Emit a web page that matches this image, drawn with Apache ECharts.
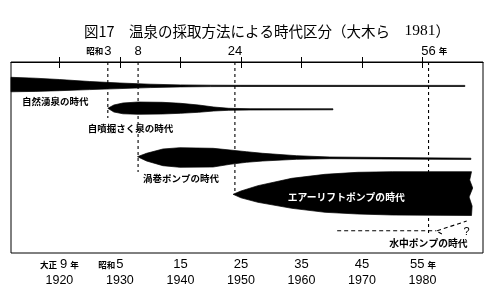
<!DOCTYPE html>
<html><head><meta charset="utf-8">
<script src="https://cdn.jsdelivr.net/npm/echarts@6/dist/echarts.min.js"></script>
<style>html,body{margin:0;padding:0;background:#fff}#c{width:500px;height:300px}</style>
</head><body><div id="c"></div>
<script>
// ---- text ----
const titleMain = '図17　温泉の採取方法による時代区分（大木ら　';
const titleYear = '1981';
const titleEnd = '）';

// ---- axis range (years) ----
const xMin = 1912, xMax = 1990;
const yMin = 0, yMax = 191;

// ---- bottom axis ----
const bottomTickYears = [1920, 1930, 1940, 1950, 1960, 1970, 1980];
const bottomEraPrefix = ['大正 ', '昭和', '', '', '', '', ''];
const bottomEraNumber = ['9', '5', '15', '25', '35', '45', '55'];
const bottomEraSuffix = ['年', '', '', '', '', '', '年'];

// ---- top axis ----
const topTickYears = [1920, 1930, 1940, 1950, 1960, 1970, 1980];
const topLabelYears = [1928, 1933, 1949, 1981];
const topLabelPrefix = ['昭和', '', '', ''];
const topLabelNumber = ['3', '8', '24', '56'];
const topLabelSuffix = ['', '', '', '年'];

// ---- era bands: year, upper edge, lower edge (lane units, 0 = top) ----
const naturalYears  = [1912, 1916, 1920, 1925, 1930, 1935, 1940, 1945, 1950, 1987];
const naturalTop    = [15.3, 16.2, 17.5, 19.5, 21.0, 22.2, 22.9, 23.2, 23.3, 23.4];
const naturalBottom = [29.8, 29.4, 28.7, 27.6, 26.6, 25.6, 24.9, 24.6, 24.5, 24.5];

const artesianYears  = [1928, 1929, 1930.5, 1933, 1937, 1940, 1943, 1945.5, 1948, 1951.5, 1965.2];
const artesianTop    = [46.3, 43.0, 41.0, 40.0, 40.3, 41.3, 43.0, 45.0, 46.3, 46.7, 46.8];
const artesianBottom = [46.3, 50.0, 51.8, 52.3, 52.0, 51.3, 50.3, 49.0, 48.3, 48.0, 47.8];

const centrifugalYears  = [1932.9, 1934.4, 1937.1, 1939.9, 1945.4, 1948.2, 1950.9, 1953.6, 1959.2, 1964.7, 1988];
const centrifugalTop    = [94.7, 91.3, 87.0, 85.7, 86.3, 88.0, 89.7, 91.3, 93.7, 95.0, 96.2];
const centrifugalBottom = [94.7, 99.0, 103.7, 105.3, 105.0, 102.3, 100.3, 99.0, 97.3, 96.7, 97.4];

const airliftYears  = [1948.7, 1950, 1952.8, 1958.4, 1963.9, 1969.3, 1975, 1988.1];
const airliftTop    = [132.3, 129.0, 123.7, 116.3, 112.3, 110.3, 109.7, 109.7];
const airliftBottom = [132.3, 135.8, 140.3, 146.3, 150.3, 152.0, 153.0, 153.5];
const airliftEdgeYears = [1987.8, 1988.3, 1987.7, 1988.2];
const airliftEdgeY     = [118, 126, 135, 144];

// ---- submersible pump (dashed) ----
const submersibleYears = [1965.9, 1982.3];
const submersibleY     = [168.7, 168.7];
const forkYears = [1983.2, 1982.3, 1987.3];
const forkY     = [172.0, 169.0, 159.0];

// ---- dashed dividers ----
const dividerYears = [1928, 1933, 1949, 1981];
const dividerEnds  = [56, 110, 131, 174];

// ---- era labels ----
const labelTexts = ['自然湧泉の時代', '自噴掘さく泉の時代', '渦巻ポンプの時代', 'エアーリフトポンプの時代', '水中ポンプの時代', '?'];
const labelYears = [1913.8, 1924.7, 1933.8, 1967.4, 1974.5, 1987.3];
const labelYs    = [39, 66.3, 116.3, 135.3, 181.3, 170];
const labelAlign = ['left', 'left', 'left', 'center', 'left', 'center'];
const labelColor = ['#000', '#000', '#000', '#fff', '#000', '#000'];

const JP = '"Noto Sans CJK JP"';

function bandSeries(name, years, top, bottom, edgeYears, edgeY) {
  return {
    type: 'custom', name: name, silent: true, z: 3,
    data: years.map((y, i) => [y, top[i], bottom[i]]),
    renderItem: function (params, api) {
      if (params.dataIndex !== 0) return null;
      const pts = [];
      for (let i = 0; i < years.length; i++) pts.push(api.coord([years[i], top[i]]));
      if (edgeYears) for (let i = 0; i < edgeYears.length; i++) pts.push(api.coord([edgeYears[i], edgeY[i]]));
      for (let i = years.length - 1; i >= 0; i--) pts.push(api.coord([years[i], bottom[i]]));
      return { type: 'polygon', shape: { points: pts }, style: { fill: '#000', stroke: '#000', lineWidth: 0.7 } };
    }
  };
}

const series = [];
dividerYears.forEach((yr, i) => {
  series.push({ type: 'line', silent: true, z: 1, symbol: 'none',
    data: [[yr, 0], [yr, dividerEnds[i]]],
    lineStyle: { color: '#000', width: 1.1, type: [3, 3] } });
});
series.push(bandSeries('自然湧泉', naturalYears, naturalTop, naturalBottom));
series.push(bandSeries('自噴掘さく泉', artesianYears, artesianTop, artesianBottom));
series.push(bandSeries('渦巻ポンプ', centrifugalYears, centrifugalTop, centrifugalBottom));
series.push(bandSeries('エアーリフトポンプ', airliftYears, airliftTop, airliftBottom, airliftEdgeYears, airliftEdgeY));
series.push({ type: 'line', silent: true, z: 2, symbol: 'none',
  data: submersibleYears.map((y, i) => [y, submersibleY[i]]),
  lineStyle: { color: '#000', width: 1.1, type: [4, 3] } });
series.push({ type: 'line', silent: true, z: 2, symbol: 'none',
  data: forkYears.map((y, i) => [y, forkY[i]]),
  lineStyle: { color: '#000', width: 1.1, type: [4, 3] } });
series.push({
  type: 'custom', silent: true, z: 6,
  data: labelYears.map((y, i) => [y, labelYs[i]]),
  renderItem: function (params, api) {
    const i = params.dataIndex;
    const p = api.coord([api.value(0), api.value(1)]);
    const isQ = labelTexts[i] === '?';
    return { type: 'text', x: p[0], y: p[1], style: {
      text: labelTexts[i], fill: labelColor[i], align: labelAlign[i], verticalAlign: 'middle',
      font: (isQ ? 'normal 11px "Liberation Sans"' : 'bold ' + (i >= 3 ? '9.8px ' : '9.5px ') + JP) } };
  }
});

const chart = echarts.init(document.getElementById('c'), null, { renderer: 'canvas' });
chart.setOption({
  animation: false,
  backgroundColor: '#fff',
  title: {
    text: titleMain + '{s|' + titleYear + '}' + titleEnd,
    left: 79, top: 18,
    textStyle: { fontSize: 14.5, fontWeight: 'normal', color: '#000', fontFamily: JP,
      rich: { s: { fontSize: 15.5, fontFamily: '"Liberation Serif"', color: '#000' } } }
  },
  grid: { left: 11, right: 17, top: 62, bottom: 47, show: true, borderColor: '#000', borderWidth: 1, containLabel: false },
  xAxis: [{
    type: 'value', min: xMin, max: xMax, position: 'bottom',
    axisLine: { show: true, lineStyle: { color: '#000', width: 1 } },
    axisTick: { show: true, inside: true, length: 5, customValues: bottomTickYears, lineStyle: { color: '#000' } },
    splitLine: { show: false },
    axisLabel: {
      customValues: bottomTickYears, margin: 3.5, color: '#000',
      formatter: function (v) {
        const i = bottomTickYears.indexOf(Math.round(v));
        if (i < 0) return '';
        let s = '';
        if (bottomEraPrefix[i]) s += '{k|' + bottomEraPrefix[i] + '}';
        s += '{n|' + bottomEraNumber[i] + '}';
        if (bottomEraSuffix[i]) s += '{k| ' + bottomEraSuffix[i] + '}';
        if (i === 1) s += '{p|' + bottomEraPrefix[i] + '}';
        return s + '\n{y|' + bottomTickYears[i] + '}';
      },
      rich: {
        k: { fontSize: 8.5, fontFamily: JP, color: '#000', fontWeight: 'bold', lineHeight: 16 },
        n: { fontSize: 13, fontFamily: '"Liberation Sans"', color: '#000', lineHeight: 16, padding: [0, 1] },
        p: { fontSize: 8.5, fontFamily: JP, color: 'rgba(0,0,0,0)', lineHeight: 16 },
        y: { fontSize: 12.5, fontFamily: '"Liberation Sans"', color: '#000', lineHeight: 16 }
      }
    }
  }, {
    type: 'value', min: xMin, max: xMax, position: 'top',
    axisLine: { show: false },
    axisTick: { show: true, inside: true, length: 6, customValues: topTickYears, lineStyle: { color: '#000' } },
    splitLine: { show: false },
    axisLabel: {
      customValues: topLabelYears, margin: 4, color: '#000',
      formatter: function (v) {
        const i = topLabelYears.indexOf(Math.round(v));
        if (i < 0) return '';
        let s = '';
        if (topLabelPrefix[i]) s += '{k|' + topLabelPrefix[i] + '}';
        if (topLabelSuffix[i]) s += '{p| ' + topLabelSuffix[i] + '}';
        s += '{n|' + topLabelNumber[i] + '}';
        if (topLabelSuffix[i]) s += '{k| ' + topLabelSuffix[i] + '}';
        if (topLabelPrefix[i]) s += '{p|' + topLabelPrefix[i] + '}';
        return s;
      },
      rich: {
        k: { fontSize: 8.5, fontFamily: JP, color: '#000', fontWeight: 'bold', lineHeight: 14 },
        n: { fontSize: 13, fontFamily: '"Liberation Sans"', color: '#000', lineHeight: 14, padding: [0, 1] },
        p: { fontSize: 8.5, fontFamily: JP, color: 'rgba(0,0,0,0)', lineHeight: 14 }
      }
    }
  }],
  yAxis: { type: 'value', min: yMin, max: yMax, inverse: true, show: false, splitLine: { show: false } },
  series: series
});
</script>
</body></html>
